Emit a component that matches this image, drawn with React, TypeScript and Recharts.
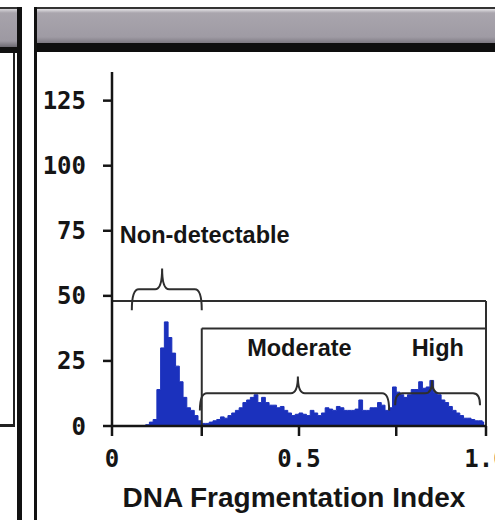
import React from 'react';
import { ComposedChart, Area, XAxis, YAxis, ReferenceLine, ReferenceArea, ReferenceDot, Label } from 'recharts';

// Histogram bins (left edge of each 0.01-wide bin of the DNA Fragmentation Index)
const binStart = [
  0.00, 0.01, 0.02, 0.03, 0.04, 0.05, 0.06, 0.07, 0.08, 0.09,
  0.10, 0.11, 0.12, 0.13, 0.14, 0.15, 0.16, 0.17, 0.18, 0.19,
  0.20, 0.21, 0.22, 0.23, 0.24, 0.25, 0.26, 0.27, 0.28, 0.29,
  0.30, 0.31, 0.32, 0.33, 0.34, 0.35, 0.36, 0.37, 0.38, 0.39,
  0.40, 0.41, 0.42, 0.43, 0.44, 0.45, 0.46, 0.47, 0.48, 0.49,
  0.50, 0.51, 0.52, 0.53, 0.54, 0.55, 0.56, 0.57, 0.58, 0.59,
  0.60, 0.61, 0.62, 0.63, 0.64, 0.65, 0.66, 0.67, 0.68, 0.69,
  0.70, 0.71, 0.72, 0.73, 0.74, 0.75, 0.76, 0.77, 0.78, 0.79,
  0.80, 0.81, 0.82, 0.83, 0.84, 0.85, 0.86, 0.87, 0.88, 0.89,
  0.90, 0.91, 0.92, 0.93, 0.94, 0.95, 0.96, 0.97, 0.98, 0.99,
];

// Cell counts per bin
const counts = [
  0, 0, 0, 0, 0, 0, 0, 0, 0, 0.5,
  1.5, 2.5, 14, 30, 40, 34, 28, 23, 17, 11,
  7, 6, 4, 2, 1, 1, 1.5, 2, 2.5, 3.5,
  3, 4, 5, 6, 7, 9, 10, 11, 12, 9,
  11, 9, 8, 8, 7, 7.5, 6, 5, 4, 4.5,
  5, 4.5, 4, 6, 5, 4, 5, 7, 6.5, 6,
  7.5, 7, 6, 6, 6, 6.5, 10, 6, 6, 7,
  7, 9, 8, 6, 7, 15, 13, 12, 11, 12,
  14, 14, 17, 14.5, 15, 17.5, 13, 12, 10, 9,
  7.5, 6, 5, 4, 3, 3, 2.5, 2, 2, 1.5,
];

const binWidth = 0.01;

const yTicks = [0, 25, 50, 75, 100, 125];
const xTicks = [0, 0.24, 0.5, 0.76, 1];
const xTickLabels: Record<string, string> = { '0': '0', '0.5': '0.5', '1': '1.0' };

// Gates (data units)
const outerGate = { x1: 0, x2: 1, y: 48 };
const innerGate = { x1: 0.24, x2: 1, y: 37.5 };

// Braces: x range, end level, bar level, tip level, cusp position
const braces = [
  { x1: 0.053, x2: 0.24, end: 44.5, bar: 52.5, tip: 60.5, cusp: 0.134 },
  { x1: 0.235, x2: 0.741, end: 6, bar: 12.6, tip: 19, cusp: 0.497 },
  { x1: 0.757, x2: 0.984, end: 8, bar: 12.6, tip: 17.6, cusp: 0.856 },
];

const labels = [
  { text: 'Non-detectable', x: 0.021, y: 70.4, anchor: 'start' },
  { text: 'Moderate', x: 0.501, y: 26.8, anchor: 'middle' },
  { text: 'High', x: 0.871, y: 26.8, anchor: 'middle' },
];

const data = binStart.map((s, i) => ({ x: s + binWidth / 2, count: counts[i] }));

const BLUE = '#1b31bd';
const INK = '#151515';
const GATE = '#2e2e2e';
const SANS = '"Liberation Sans", Arial, Helvetica, sans-serif';
const MONO = '"DejaVu Sans Mono", monospace';

const makeBrace = (b: typeof braces[number]) => (props: any) => {
  const { x, y, width, height } = props;
  if (x == null || y == null) return null;
  const L = x;
  const R = x + width;
  const T = y;
  const B = y + height;
  const barY = B - ((b.bar - b.end) / (b.tip - b.end)) * height;
  const cx = x + (width * (b.cusp - b.x1)) / (b.x2 - b.x1);
  const r = 7;
  const d = `M ${L} ${B} Q ${L} ${barY} ${L + r} ${barY} L ${cx - r} ${barY} Q ${cx} ${barY} ${cx} ${T} Q ${cx} ${barY} ${cx + r} ${barY} L ${R - r} ${barY} Q ${R} ${barY} ${R} ${B}`;
  return <path d={d} fill="none" stroke={GATE} strokeWidth={2} />;
};

const makeText = (l: typeof labels[number]) => (props: any) => {
  const { cx, cy } = props;
  if (cx == null || cy == null) return null;
  return (
    <text x={cx} y={cy} textAnchor={l.anchor as any} fontFamily={SANS} fontWeight="bold" fontSize={23.5} fill={INK}>
      {l.text}
    </text>
  );
};

const Frame = () => (
  <>
    {/* left neighbour panel */}
    <div style={{ position: 'absolute', left: 0, top: 7, width: 18, height: 2, background: '#333' }} />
    <div style={{ position: 'absolute', left: 0, top: 9, width: 18, height: 38, background: 'linear-gradient(#d8d6da 0px, #a7a3ab 4px, #9d99a2 32px, #6d6a72 38px)' }} />
    <div style={{ position: 'absolute', left: 0, top: 47, width: 18, height: 6, background: '#111' }} />
    <div style={{ position: 'absolute', left: 17, top: 7, width: 5, height: 513, background: '#111' }} />
    <div style={{ position: 'absolute', left: 13, top: 53, width: 2, height: 373, background: '#222' }} />
    <div style={{ position: 'absolute', left: 0, top: 424, width: 15, height: 3, background: '#222' }} />
    {/* main panel */}
    <div style={{ position: 'absolute', left: 34, top: 7, width: 461, height: 2, background: '#333' }} />
    <div style={{ position: 'absolute', left: 37, top: 9, width: 458, height: 35, background: 'linear-gradient(#e4e2e6 0px, #a9a5ad 4px, #9f9ba4 28px, #77737c 35px)' }} />
    <div style={{ position: 'absolute', left: 34, top: 43, width: 461, height: 9, background: '#0e0e0e' }} />
    <div style={{ position: 'absolute', left: 34, top: 7, width: 3, height: 513, background: '#111' }} />
  </>
);

export default function App() {
  return (
    <div style={{ position: 'absolute', left: 0, top: 0, width: 495, height: 520, background: '#fff', overflow: 'hidden' }}>
      <Frame />
      <div style={{ position: 'absolute', left: 0, top: 0 }}>
        <ComposedChart width={495} height={520} data={data} margin={{ top: 72, right: 9, left: 0, bottom: 0 }}>
          <XAxis
            dataKey="x"
            type="number"
            domain={[0, 1]}
            ticks={xTicks}
            interval={0}
            height={94}
            tickSize={10}
            tickMargin={14}
            tickFormatter={(v: number) => xTickLabels[String(v)] ?? ''}
            tick={{ fontFamily: MONO, fontWeight: 'bold', fontSize: 24, fill: INK }}
            axisLine={{ stroke: INK, strokeWidth: 2.5 }}
            tickLine={{ stroke: INK, strokeWidth: 2.5 }}
          >
            <Label value="DNA Fragmentation Index" position="insideBottom" offset={13} dx={-5} fontFamily={SANS} fontWeight="bold" fontSize={28} fill={INK} />
          </XAxis>
          <YAxis
            type="number"
            domain={[0, 136]}
            ticks={yTicks}
            interval={0}
            width={112}
            tickSize={9}
            tickMargin={17}
            tick={{ fontFamily: MONO, fontWeight: 'bold', fontSize: 24, fill: INK }}
            axisLine={{ stroke: INK, strokeWidth: 2.5 }}
            tickLine={{ stroke: INK, strokeWidth: 2.5 }}
          />
          <Area
            dataKey="count"
            type="step"
            fill={BLUE}
            fillOpacity={1}
            stroke={BLUE}
            strokeWidth={1}
            baseValue={0}
            isAnimationActive={false}
          />
          <ReferenceLine segment={[{ x: outerGate.x1, y: outerGate.y }, { x: outerGate.x2, y: outerGate.y }]} stroke={GATE} strokeWidth={2} />
          <ReferenceLine segment={[{ x: outerGate.x2, y: outerGate.y }, { x: outerGate.x2, y: 0 }]} stroke={GATE} strokeWidth={2} />
          <ReferenceLine segment={[{ x: innerGate.x1, y: innerGate.y }, { x: innerGate.x2, y: innerGate.y }]} stroke={GATE} strokeWidth={2} />
          <ReferenceLine segment={[{ x: innerGate.x1, y: innerGate.y }, { x: innerGate.x1, y: 0 }]} stroke={GATE} strokeWidth={2} />
          {braces.map((b, i) => (
            <ReferenceArea key={`b${i}`} x1={b.x1} x2={b.x2} y1={b.end} y2={b.tip} shape={makeBrace(b)} />
          ))}
          {labels.map((l, i) => (
            <ReferenceDot key={`l${i}`} x={l.x} y={l.y} r={0} shape={makeText(l)} />
          ))}
        </ComposedChart>
      </div>
    </div>
  );
}
